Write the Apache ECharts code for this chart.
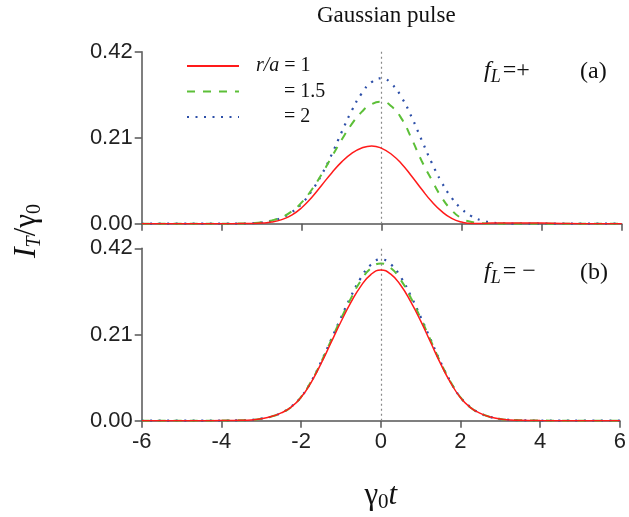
<!DOCTYPE html>
<html><head><meta charset="utf-8">
<script src="https://cdn.jsdelivr.net/npm/echarts@6/dist/echarts.min.js"></script>
<style>html,body{margin:0;padding:0;background:#fff}#c{width:629px;height:517px}</style>
</head><body><div id="c"></div>
<script>
// ---- data ----
const tValues = [-6,-5,-4.5,-4,-3.5,-3.25,-3,-2.75,-2.5,-2.25,-2,-1.75,-1.5,-1.25,-1,-0.75,-0.5,-0.25,0,0.25,0.5,0.75,1,1.25,1.5,1.75,2,2.25,2.5,2.75,3,3.25,3.5,4,4.5,5,6];
const seriesNames = ['r/a = 1', '= 1.5', '= 2'];
// panel (a): f_L = +
const panelA_r1  = [0,0,0,0.0001,0.0002,0.0005,0.0015,0.004,0.010,0.021,0.039,0.064,0.094,0.124,0.151,0.172,0.185,0.190,0.184,0.169,0.146,0.116,0.084,0.054,0.030,0.013,0.004,0.0005,0.0005,0.0015,0.002,0.002,0.002,0.0015,0.0005,0,0];
const panelA_r15 = [0,0,0,0.0001,0.0005,0.0015,0.0035,0.008,0.016,0.030,0.052,0.083,0.121,0.163,0.205,0.243,0.273,0.292,0.298,0.286,0.256,0.207,0.153,0.107,0.064,0.033,0.013,0.004,0.001,0,0,0,0,0,0,0,0];
const panelA_r2  = [0,0,0,0.0001,0.0003,0.001,0.003,0.007,0.015,0.028,0.049,0.080,0.120,0.169,0.224,0.276,0.318,0.346,0.355,0.341,0.308,0.260,0.204,0.149,0.101,0.063,0.036,0.018,0.008,0.003,0.001,0,0,0,0,0,0];
// panel (b): f_L = −
const panelB_r1  = [0,0,0.0001,0.0003,0.001,0.002,0.005,0.010,0.019,0.033,0.057,0.093,0.139,0.190,0.241,0.288,0.328,0.356,0.367,0.357,0.330,0.290,0.243,0.191,0.139,0.093,0.056,0.032,0.018,0.009,0.004,0.002,0.001,0.0003,0.0001,0,0];
const panelB_r15 = [0,0,0.0001,0.0003,0.001,0.002,0.005,0.010,0.019,0.033,0.058,0.095,0.142,0.195,0.248,0.298,0.341,0.371,0.383,0.372,0.343,0.300,0.250,0.196,0.142,0.095,0.057,0.032,0.018,0.009,0.004,0.002,0.001,0.0003,0.0001,0,0];
const panelB_r2  = [0,0,0.0001,0.0003,0.001,0.002,0.005,0.010,0.019,0.034,0.058,0.095,0.143,0.197,0.251,0.303,0.348,0.380,0.393,0.381,0.350,0.305,0.253,0.198,0.143,0.095,0.057,0.033,0.018,0.009,0.004,0.002,0.001,0.0003,0.0001,0,0];
const yTicks = [0, 0.21, 0.42];
const xTicks = [-6, -4, -2, 0, 2, 4, 6];

// ---- chart ----
const pairs = arr => tValues.map((t, i) => [t, arr[i]]);
const serif = 'Liberation Serif';
const sans = 'Liberation Sans';
const axisCol = '#555';
const styles = [
  { color: '#ff1a1a', width: 1.5, type: 'solid' },
  { color: '#5cbf38', width: 2, type: [8, 8] },
  { color: '#2d4fa8', width: 2.2, type: [2, 6.5] }
];
function mkSeries(arr, k, grid) {
  const s = {
    name: seriesNames[k], type: 'line', xAxisIndex: grid, yAxisIndex: grid,
    data: pairs(arr), smooth: 0.5, symbol: 'none', showSymbol: false,
    lineStyle: { color: styles[k].color, width: styles[k].width, type: styles[k].type },
    itemStyle: { color: styles[k].color }, z: 5 - k
  };
  if (k === 0) {
    s.markLine = { silent: true, symbol: 'none', label: { show: false },
      lineStyle: { type: [2, 3], color: '#888', width: 1.2 }, data: [{ xAxis: 0 }] };
  }
  return s;
}
const common = {
  axisLine: { show: true, onZero: false, lineStyle: { color: axisCol, width: 1.5 } },
  axisTick: { show: true, length: 7, lineStyle: { color: axisCol, width: 1.5 } },
  splitLine: { show: false }
};
function xAx(grid, labels) {
  return Object.assign({}, common, {
    type: 'value', gridIndex: grid, min: xTicks[0], max: xTicks[xTicks.length - 1], interval: xTicks[1] - xTicks[0],
    axisLabel: { show: labels, fontFamily: sans, fontSize: 22, color: '#222', margin: 10 },
    name: labels ? '{g|γ}{s|0}{i|t}' : '', nameLocation: 'middle', nameGap: 58,
    nameTextStyle: { rich: {
      g: { fontFamily: serif, fontSize: 31, color: '#111', lineHeight: 34, verticalAlign: 'middle' },
      s: { fontFamily: serif, fontSize: 21, color: '#111', lineHeight: 20, verticalAlign: 'bottom' },
      i: { fontFamily: serif, fontStyle: 'italic', fontSize: 31, color: '#111', lineHeight: 34, verticalAlign: 'middle' }
    } }
  });
}
function yAx(grid) {
  return Object.assign({}, common, {
    type: 'value', gridIndex: grid, min: yTicks[0], max: yTicks[yTicks.length - 1], interval: yTicks[1] - yTicks[0],
    axisLabel: { fontFamily: sans, fontSize: 22, color: '#222', margin: 9, formatter: v => v.toFixed(2) }
  });
}
const annRich = {
  i: { fontFamily: serif, fontStyle: 'italic', fontSize: 24, fill: '#111', lineHeight: 30, verticalAlign: 'middle' },
  s: { fontFamily: serif, fontStyle: 'italic', fontSize: 18, fill: '#111', lineHeight: 16, verticalAlign: 'bottom', padding: [0, 2, 0, 0] },
  n: { fontFamily: serif, fontSize: 24, fill: '#111', lineHeight: 30, verticalAlign: 'middle' }
};
const chart = echarts.init(document.getElementById('c'), null, { renderer: 'canvas' });
chart.setOption({
  animation: false,
  backgroundColor: '#fff',
  title: { text: 'Gaussian pulse', left: 312, top: -1,
    textStyle: { fontFamily: serif, fontSize: 23, fontWeight: 'normal', color: '#111' } },
  legend: {
    data: seriesNames, orient: 'vertical', left: 181, top: 51, itemWidth: 52, itemHeight: 14, itemGap: 5.5,
    itemStyle: { opacity: 0 },
    textStyle: { fontFamily: serif, fontSize: 20, color: '#111', rich: {
      p1: { width: 12, lineHeight: 20 },
      p2: { width: 40, lineHeight: 20 },
      i: { fontFamily: serif, fontStyle: 'italic', fontSize: 20, color: '#111', lineHeight: 20 },
      n: { fontFamily: serif, fontSize: 20, color: '#111', lineHeight: 20 }
    } },
    formatter: name => name.indexOf('r/a') === 0
      ? '{p1| }{i|r/a}{n|' + name.slice(3) + '}'
      : '{p2| }{n|' + name + '}'
  },
  grid: [
    { left: 141.7, width: 480, top: 51.7, height: 172 },
    { left: 141.7, width: 480, top: 248.3, height: 172.4 }
  ],
  xAxis: [xAx(0, false), xAx(1, true)],
  yAxis: [yAx(0), yAx(1)],
  series: [
    mkSeries(panelA_r1, 0, 0), mkSeries(panelA_r15, 1, 0), mkSeries(panelA_r2, 2, 0),
    mkSeries(panelB_r1, 0, 1), mkSeries(panelB_r15, 1, 1), mkSeries(panelB_r2, 2, 1)
  ],
  graphic: [
    { type: 'text', x: 27, y: 231, rotation: Math.PI / 2,
      style: { text: '{i|I}{s|T}{n|/γ}{u|0}', align: 'center', verticalAlign: 'middle', rich: {
        i: { fontFamily: serif, fontStyle: 'italic', fontSize: 32, fill: '#111', lineHeight: 36, verticalAlign: 'middle' },
        s: { fontFamily: serif, fontStyle: 'italic', fontSize: 20, fill: '#111', lineHeight: 20, verticalAlign: 'bottom' },
        u: { fontFamily: serif, fontSize: 20, fill: '#111', lineHeight: 20, verticalAlign: 'bottom' },
        n: { fontFamily: serif, fontSize: 31, fill: '#111', lineHeight: 36, verticalAlign: 'middle' }
      } } },
    { type: 'text', x: 484, y: 71, style: { text: '{i|f}{s|L}{n|=+}', verticalAlign: 'middle', rich: annRich } },
    { type: 'text', x: 580, y: 71.5, style: { text: '(a)', font: '24px "Liberation Serif"', fill: '#111', verticalAlign: 'middle' } },
    { type: 'text', x: 484, y: 272, style: { text: '{i|f}{s|L}{n|= −}', verticalAlign: 'middle', rich: annRich } },
    { type: 'text', x: 580, y: 272.5, style: { text: '(b)', font: '24px "Liberation Serif"', fill: '#111', verticalAlign: 'middle' } }
  ]
});
</script></body></html>
